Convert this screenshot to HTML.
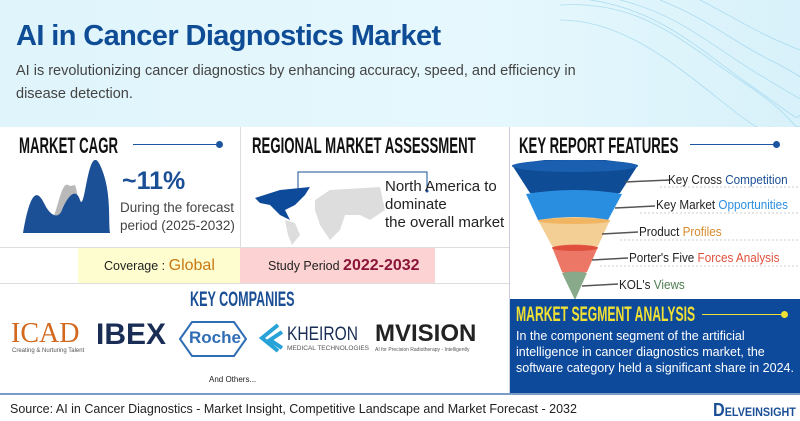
<!DOCTYPE html><html><head><style>
*{margin:0;padding:0;box-sizing:border-box}
body{width:800px;height:420px;overflow:hidden;background:#fff;font-family:"Liberation Sans",sans-serif;position:relative}
.a{position:absolute;white-space:nowrap}
.h{font-weight:bold;font-size:22px;color:#111;transform:scaleX(.6);transform-origin:left}
</style></head><body>
<div class="a" style="left:0;top:0;width:800px;height:127px;background:linear-gradient(90deg,#dff4fb,#e6f8fd 60%,#d8f1fa)"></div>
<svg class="a" style="left:560px;top:0" width="240" height="127"><g fill="none" stroke="#9fd6ee" stroke-width="0.8" opacity=".8">
<path d="M0 5 C80 0 120 40 180 80 S230 127 240 127"/><path d="M30 0 C100 10 140 50 190 85 S235 120 240 115"/><path d="M60 0 C120 15 150 45 200 75 S240 100 240 95"/><path d="M100 0 C150 20 170 40 210 60 S240 80 240 75"/><path d="M140 0 C170 15 200 35 240 50"/><path d="M0 20 C60 20 110 60 160 100 S200 127 210 127"/></g></svg>
<div class="a" style="left:16px;top:20px;font-size:29px;font-weight:bold;color:#0f4c96;letter-spacing:-0.6px">AI in Cancer Diagnostics Market</div>
<div class="a" style="left:16px;top:60px;width:590px;white-space:normal;font-size:14.5px;line-height:23px;color:#444">AI is revolutionizing cancer diagnostics by enhancing accuracy, speed, and efficiency in disease detection.</div>
<div class="a" style="left:0;top:127px;width:509px;height:266px;background:#fff"></div>
<div class="a" style="left:240px;top:127px;width:1px;height:120px;background:#ddd"></div>
<div class="a" style="left:0;top:247px;width:509px;height:1px;background:#ddd"></div>
<div class="a" style="left:0;top:283px;width:509px;height:1px;background:#ddd"></div>
<div class="a" style="left:509px;top:127px;width:1px;height:266px;background:#ccd"></div>
<div class="a" style="left:0;top:393px;width:800px;height:2px;background:#7a9cc6"></div>
<div class="a h" style="left:19px;top:133px">MARKET CAGR</div>
<div class="a" style="left:133px;top:144px;width:86px;height:1px;background:#1c55a0"></div>
<div class="a" style="left:216px;top:141px;width:7px;height:7px;border-radius:50%;background:#1c55a0"></div>
<svg class="a" style="left:20px;top:160px" width="95" height="75"><path d="M5 73 C15 40 25 40 30 55 S40 20 48 25 S55 10 60 60 L62 73Z" fill="#b9b9b9"/><path d="M3 73 C12 20 20 35 25 45 S38 60 42 50 S55 25 60 40 S68 -20 80 5 S88 60 90 73Z" fill="#1b4f96"/></svg>
<div class="a" style="left:122px;top:167px;font-size:25px;font-weight:bold;color:#1a4f96">~11%</div>
<div class="a" style="left:120px;top:199px;font-size:13.5px;line-height:18px;color:#444">During the forecast<br>period (2025-2032)</div>
<div class="a h" style="left:252px;top:133px">REGIONAL MARKET ASSESSMENT</div>
<svg class="a" style="left:250px;top:165px" width="140" height="80">
<path d="M5 33 L30 25 L60 22 L55 30 L45 40 L35 45 L40 55 L30 50 L20 40 L10 38Z" fill="#0e4a9a"/>
<path d="M35 55 L45 58 L50 70 L42 80 L38 70Z" fill="#ddd"/>
<path d="M65 35 L80 25 L130 22 L135 45 L120 55 L110 50 L95 50 L90 65 L80 75 L70 60 L65 45Z" fill="#ddd"/></svg>
<svg class="a" style="left:250px;top:165px" width="180" height="30"><path d="M48 27 V7 H177 V25" fill="none" stroke="#1a4f96" stroke-width="1"/><circle cx="177" cy="26" r="1.5" fill="#1a4f96"/></svg>
<div class="a" style="left:385px;top:178px;font-size:15px;line-height:18px;color:#222">North America to<br>dominate<br>the overall market</div>
<div class="a" style="left:78px;top:248px;width:162px;height:35px;background:#fdfdd0"></div>
<div class="a" style="left:240px;top:248px;width:195px;height:35px;background:#fdd2d2"></div>
<div class="a" style="left:104px;top:257px;font-size:12.5px;color:#222">Coverage : <b style="font-size:16px;color:#c97a12;font-weight:normal">Global</b></div>
<div class="a" style="left:268px;top:257px;font-size:12.5px;color:#222">Study Period <b style="font-size:16px;color:#8a1538">2022-2032</b></div>
<div class="a h" style="left:190px;top:288px;color:#1a4f96;font-size:21px">KEY COMPANIES</div>
<div class="a" style="left:11px;top:318px;font-family:'Liberation Serif',serif;font-size:28px;color:#d2691e">ICAD</div>
<div class="a" style="left:12px;top:348px;font-size:6px;color:#555">Creating &amp; Nurturing Talent</div>
<div class="a" style="left:96px;top:318px;font-size:30px;font-weight:bold;color:#1a2e55">IBEX</div>
<svg class="a" style="left:178px;top:320px" width="70" height="38"><polygon points="2,19 14,2 56,2 68,19 56,36 14,36" fill="none" stroke="#2f6db5" stroke-width="2"/></svg>
<div class="a" style="left:189px;top:328px;font-size:17px;font-weight:bold;color:#2f6db5">Roche</div>
<svg class="a" style="left:258px;top:322px" width="28" height="32"><path d="M20 3 L4 16 L20 29 M24 10 L12 18 L24 26" fill="none" stroke="#28a3d8" stroke-width="4"/></svg>
<div class="a" style="left:287px;top:324px;font-size:19px;color:#1a2e55;transform:scaleX(.82);transform-origin:left">KHEIRON</div>
<div class="a" style="left:287px;top:345px;font-size:6.5px;color:#555">MEDICAL TECHNOLOGIES</div>
<div class="a" style="left:375px;top:320px;font-size:24px;font-weight:bold;color:#222">MVISION</div>
<div class="a" style="left:375px;top:347px;font-size:5px;color:#555">AI for Precision Radiotherapy - Intelligently</div>
<div class="a" style="left:209px;top:375px;font-size:8px;color:#222">And Others...</div>
<div class="a" style="left:10px;top:402px;font-size:12.5px;color:#222">Source: AI in Cancer Diagnostics - Market Insight, Competitive Landscape and Market Forecast - 2032</div>
<div class="a h" style="left:519px;top:133px">KEY REPORT FEATURES</div>
<div class="a" style="left:690px;top:144px;width:86px;height:1px;background:#1c55a0"></div>
<div class="a" style="left:773px;top:141px;width:7px;height:7px;border-radius:50%;background:#1c55a0"></div>
<svg class="a" style="left:510px;top:160px" width="290" height="140">
<g stroke="#ccc" stroke-dasharray="2,2"><line x1="150" y1="27" x2="290" y2="27"/><line x1="130" y1="53" x2="290" y2="53"/><line x1="110" y1="80" x2="290" y2="80"/><line x1="90" y1="106" x2="290" y2="106"/></g>
<path d="M2 5 Q65 -8 128 5 L110 33 Q65 42 20 33Z" fill="#0f4c96"/><ellipse cx="65" cy="6" rx="63" ry="6" fill="#1a5fb0"/>
<path d="M16 34 Q65 26 112 34 L98 60 Q60 66 28 60Z" fill="#2a8ee0"/>
<path d="M28 60 Q65 54 100 60 L88 86 Q62 92 42 86Z" fill="#f3cf95"/><ellipse cx="64" cy="61" rx="36" ry="3" fill="#f1b562"/>
<path d="M42 87 Q65 82 88 87 L77 112 Q62 116 52 112Z" fill="#ec7766"/><ellipse cx="65" cy="88" rx="23" ry="3" fill="#e04f3c"/>
<path d="M52 113 Q65 110 77 113 L65 140Z" fill="#88aa8a"/>
<g stroke="#555" stroke-width="1.5"><line x1="115" y1="22" x2="160" y2="20"/><line x1="105" y1="48" x2="145" y2="46"/><line x1="92" y1="74" x2="128" y2="72"/><line x1="82" y1="100" x2="118" y2="98"/><line x1="72" y1="126" x2="108" y2="124"/></g></svg>
<div class="a" style="left:668px;top:172px;font-size:13px;color:#222;transform:scaleX(.9);transform-origin:left">Key Cross <span style="color:#1a4f96">Competition</span></div>
<div class="a" style="left:656px;top:197px;font-size:13px;color:#222;transform:scaleX(.9);transform-origin:left">Key Market <span style="color:#2a8ee0">Opportunities</span></div>
<div class="a" style="left:639px;top:224px;font-size:13px;color:#222;transform:scaleX(.9);transform-origin:left">Product <span style="color:#d88a2a">Profiles</span></div>
<div class="a" style="left:629px;top:250px;font-size:13px;color:#222;transform:scaleX(.9);transform-origin:left">Porter's Five <span style="color:#e04f3c">Forces Analysis</span></div>
<div class="a" style="left:619px;top:277px;font-size:13px;color:#222;transform:scaleX(.9);transform-origin:left">KOL's <span style="color:#4d7a50">Views</span></div>
<div class="a" style="left:510px;top:299px;width:290px;height:94px;background:#0d4a9b"></div>
<div class="a h" style="left:516px;top:303px;color:#f0e034;font-size:21px;transform:scaleX(.58)">MARKET SEGMENT ANALYSIS</div>
<div class="a" style="left:702px;top:314px;width:82px;height:1px;background:#f0e034"></div>
<div class="a" style="left:781px;top:311px;width:7px;height:7px;border-radius:50%;background:#f0e034"></div>
<div class="a" style="left:516px;top:328px;font-size:12.5px;line-height:16px;color:#fff">In the component segment of the artificial<br>intelligence in cancer diagnostics market, the<br>software category held a significant share in 2024.</div>
<div class="a" style="left:713px;top:400px;font-size:12px;font-weight:bold;color:#1a4f96;transform:scaleX(.9);transform-origin:left"><span style="font-size:18px">D</span>ELVEINSIGHT</div>
</body></html>
